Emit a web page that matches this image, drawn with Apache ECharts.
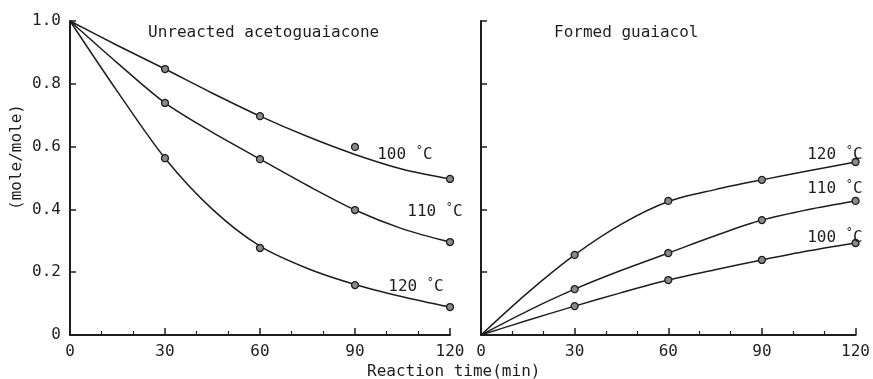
<!DOCTYPE html>
<html><head><meta charset="utf-8">
<script src="https://cdn.jsdelivr.net/npm/echarts@6/dist/echarts.min.js"></script>
<style>html,body{margin:0;padding:0;background:#fff}#c{width:873px;height:379px}</style>
</head><body><div id="c"></div>
<script>
// ---- data ----
var xTicks = [0, 30, 60, 90, 120];
var yTickLabels = ['0', '0.2', '0.4', '0.6', '0.8', '1.0'];
// Left panel: unreacted acetoguaiacone (measured points)
var leftPts100 = [[30, 0.847], [60, 0.697], [90, 0.599], [120, 0.497]];
var leftPts110 = [[30, 0.739], [60, 0.560], [90, 0.398], [120, 0.296]];
var leftPts120 = [[30, 0.563], [60, 0.277], [90, 0.159], [120, 0.089]];
// Left panel: fitted curves
var leftCurve100 = [[0, 1.0], [15, 0.922], [30, 0.847], [45, 0.770], [60, 0.697], [75, 0.632], [90, 0.575], [105, 0.528], [120, 0.497]];
var leftCurve110 = [[0, 1.0], [15, 0.866], [30, 0.739], [45, 0.645], [60, 0.560], [75, 0.476], [90, 0.398], [105, 0.338], [120, 0.296]];
var leftCurve120 = [[0, 1.0], [15, 0.775], [30, 0.563], [45, 0.400], [60, 0.283], [75, 0.212], [90, 0.161], [105, 0.122], [120, 0.089]];
// Right panel: formed guaiacol (measured points)
var rightPts120 = [[30, 0.255], [60, 0.427], [90, 0.494], [120, 0.551]];
var rightPts110 = [[30, 0.146], [60, 0.261], [90, 0.366], [120, 0.427]];
var rightPts100 = [[30, 0.092], [60, 0.175], [90, 0.239], [120, 0.293]];
// Right panel: fitted curves
var rightCurve120 = [[0, 0], [15, 0.135], [30, 0.255], [45, 0.353], [60, 0.425], [75, 0.463], [90, 0.494], [105, 0.523], [120, 0.551]];
var rightCurve110 = [[0, 0], [15, 0.077], [30, 0.146], [45, 0.206], [60, 0.261], [75, 0.316], [90, 0.366], [105, 0.400], [120, 0.427]];
var rightCurve100 = [[0, 0], [15, 0.047], [30, 0.092], [45, 0.135], [60, 0.175], [75, 0.208], [90, 0.239], [105, 0.268], [120, 0.293]];
// Curve labels [x, y, text]
var leftLabels = [[97, 0.573, '100'], [106.5, 0.392, '110'], [100.5, 0.152, '120']];
var rightLabels = [[104.5, 0.573, '120'], [104.5, 0.466, '110'], [104.5, 0.311, '100']];
var panelTitles = ['Unreacted acetoguaiacone', 'Formed guaiacol'];
var xName = 'Reaction time(min)';
var yName = '(mole/mole)';

// ---- chart ----
var FONT = 'DejaVu Sans Mono';
var INK = '#1e1e1e';
var chart = echarts.init(document.getElementById('c'));

function xAxis(idx) {
  return {
    type: 'value', gridIndex: idx, min: 0, max: 120, interval: 30,
    axisLine: { show: true, lineStyle: { color: INK, width: 2 } },
    axisTick: { show: true, inside: true, length: 7, lineStyle: { color: INK, width: 1.5 } },
    minorTick: { show: true, splitNumber: 3, length: 4, lineStyle: { color: INK, width: 1.2 } },
    splitLine: { show: false },
    axisLabel: { color: INK, fontFamily: FONT, fontSize: 16, margin: 9,
      formatter: function (v) { return xTicks.indexOf(v) >= 0 ? String(v) : ''; } }
  };
}
function yAxis(idx, labels) {
  return {
    type: 'value', gridIndex: idx, min: 0, max: 1, interval: 0.2,
    axisLine: { show: true, lineStyle: { color: INK, width: 2 } },
    axisTick: { show: true, inside: true, length: 6, lineStyle: { color: INK, width: 1.5 } },
    splitLine: { show: false },
    axisLabel: { show: !!labels, color: INK, fontFamily: FONT, fontSize: 16, margin: 9,
      formatter: function (v) { return yTickLabels[Math.round(v / 0.2)]; } }
  };
}
function curve(data, xi) {
  return { type: 'line', xAxisIndex: xi, yAxisIndex: xi, data: data, smooth: 0.3,
    showSymbol: false, symbol: 'none', silent: true,
    lineStyle: { color: INK, width: 1.5 }, z: 2 };
}
function pts(data, xi) {
  return { type: 'scatter', xAxisIndex: xi, yAxisIndex: xi,
    data: data, symbol: 'circle', symbolSize: 7,
    itemStyle: { color: '#8a8a8a', borderColor: INK, borderWidth: 1.3, opacity: 1 }, z: 3 };
}
function labels(data, xi) {
  return { type: 'scatter', xAxisIndex: xi, yAxisIndex: xi, data: data, symbolSize: 0,
    silent: true, z: 4, itemStyle: { opacity: 1 },
    label: { show: true, position: 'right', distance: 0, color: INK, fontFamily: FONT, fontSize: 16,
      formatter: function (p) { return p.data[2] + ' {d|°}C'; },
      rich: { d: { fontFamily: FONT, fontSize: 12, color: INK, verticalAlign: 'top', padding: [0, 0, 8, 0] } } } };
}
var txt = { color: INK, fontFamily: FONT, fontSize: 16, fontWeight: 'normal' };

chart.setOption({
  animation: false,
  backgroundColor: '#fff',
  grid: [
    { left: 70, top: 21, width: 380, height: 314 },
    { left: 481, top: 21, width: 380, height: 314 }
  ],
  xAxis: [xAxis(0), xAxis(1)],
  yAxis: [yAxis(0, true), yAxis(1, false)],
  title: [
    { text: panelTitles[0], left: 143, top: 20, textStyle: txt },
    { text: panelTitles[1], left: 549, top: 20, textStyle: txt },
    { text: xName, left: 362, top: 359, textStyle: txt }
  ],
  graphic: [
    { type: 'text', x: 17, y: 157, rotation: Math.PI / 2,
      style: { text: yName, fill: INK, font: '16px "' + FONT + '"', textAlign: 'center', textVerticalAlign: 'middle' } }
  ],
  series: [
    curve(leftCurve100, 0), curve(leftCurve110, 0), curve(leftCurve120, 0),
    pts(leftPts100, 0), pts(leftPts110, 0), pts(leftPts120, 0),
    curve(rightCurve120, 1), curve(rightCurve110, 1), curve(rightCurve100, 1),
    pts(rightPts120, 1), pts(rightPts110, 1), pts(rightPts100, 1),
    labels(leftLabels, 0), labels(rightLabels, 1)
  ]
});
</script></body></html>
